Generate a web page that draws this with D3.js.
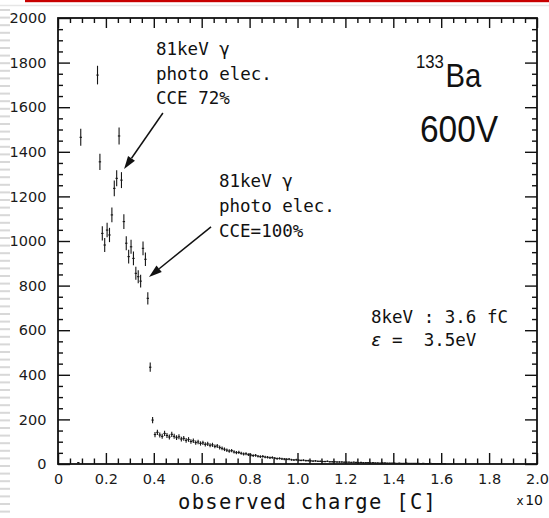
<!DOCTYPE html>
<html>
<head>
<meta charset="utf-8">
<script src="https://cdn.jsdelivr.net/npm/d3@7"></script>
<style>
  html, body { margin: 0; padding: 0; background: #fff; }
  svg { display: block; }
</style>
</head>
<body>
<svg id="chart" width="549" height="518"></svg>
<script>
// Axis ticks
const xTickValues = [0, 0.2, 0.4, 0.6, 0.8, 1.0, 1.2, 1.4, 1.6, 1.8, 2.0];
const xTickLabels = ["0", "0.2", "0.4", "0.6", "0.8", "1.0", "1.2", "1.4", "1.6", "1.8", "2.0"];
const yTickValues = [0, 200, 400, 600, 800, 1000, 1200, 1400, 1600, 1800, 2000];
const yTickLabels = ["0", "200", "400", "600", "800", "1000", "1200", "1400", "1600", "1800", "2000"];

// Photo-peak region: bin centre (charge, x10 C units) and counts
const peakCharge = [0.085, 0.095, 0.165, 0.175, 0.185, 0.195, 0.205, 0.215, 0.225, 0.235,
                    0.245, 0.255, 0.265, 0.275, 0.285, 0.295, 0.305, 0.315, 0.325, 0.335,
                    0.345, 0.355, 0.365, 0.375, 0.385, 0.395];
const peakCounts = [6, 1465, 1744, 1355, 1034, 982, 1049, 1027, 1117, 1236,
                    1281, 1471, 1273, 1087, 990, 930, 974, 922, 855, 840,
                    820, 967, 918, 743, 434, 197];

// Low-charge tail: consecutive bins starting at tailStart, width binWidth
const tailStart = 0.405;
const binWidth = 0.01;
const tailCounts = [132, 142, 130, 124, 137, 128, 121, 133, 124, 118,
                    122, 112, 115, 106, 110, 101, 104, 96, 99, 92,
                    95, 88, 90, 84, 86, 79, 81, 74, 70, 66,
                    62, 58, 60, 54, 51, 52, 48, 45, 46, 42,
                    40, 38, 39, 35, 33, 34, 31, 30, 28, 29,
                    26, 24, 25, 23, 22, 21, 22, 19, 18, 19,
                    17, 16, 17, 15, 15, 14, 13, 14, 12, 12,
                    11, 11, 12, 10, 10, 10, 9, 9, 9, 8,
                    8, 8, 7, 8, 7, 6, 7, 6, 6, 6,
                    5, 6, 5, 5, 4, 5, 5, 4, 4, 4,
                    4, 3, 4, 3, 3, 4, 3, 3, 3, 3,
                    3, 2, 3, 2, 2, 3, 2, 2, 2, 2,
                    2, 1];

// Annotation arrows: [tail, tip] in data units (charge, counts)
const arrowPeak72 = [[0.438, 1574], [0.276, 1323]];
const arrowPeak100 = [[0.639, 1063], [0.380, 839]];

const svg = d3.select("#chart");
const W = 549, H = 518;
const plot = { left: 58, right: 537, top: 18, bottom: 464 };

const x = d3.scaleLinear().domain([0, 2.0]).range([plot.left, plot.right]);
const y = d3.scaleLinear().domain([0, 2000]).range([plot.bottom, plot.top]);

// Page decoration: red rule on top and striped left margin
svg.append("rect").attr("x", 25).attr("y", 0).attr("width", W - 25).attr("height", 2.2).attr("fill", "#c80000");
svg.append("line").attr("x1", 0).attr("x2", W).attr("y1", 5.5).attr("y2", 5.5)
  .attr("stroke", "#e6e6e6").attr("stroke-width", 1.5);
svg.append("g").selectAll("rect")
  .data(d3.range(9, H, 7.6))
  .join("rect")
  .attr("x", 0).attr("y", d => d).attr("width", 10).attr("height", 2)
  .attr("fill", "#d8d8d8");

// Minor tick positions
const xMinor = d3.range(0, 41).map(i => i * 0.05).filter(v => Math.abs(v / 0.2 - Math.round(v / 0.2)) > 1e-6);
const yMinor = d3.range(0, 41).map(i => i * 50).filter(v => v % 200 !== 0);

const tickStyle = g => {
  g.select(".domain").remove();
  g.selectAll(".tick line").attr("stroke", "#111").attr("stroke-width", 1.4);
};

// Bottom axis (major with labels, minor without)
svg.append("g").attr("transform", `translate(0,${plot.bottom})`)
  .call(d3.axisBottom(x).tickValues(xTickValues).tickSizeInner(-11).tickSizeOuter(0).tickPadding(9.7)
    .tickFormat((d, i) => xTickLabels[i]))
  .call(tickStyle)
  .call(g => g.selectAll("text").attr("font-family", "DejaVu Sans").attr("font-size", 14.5).attr("fill", "#1a1a1a"));
svg.append("g").attr("transform", `translate(0,${plot.bottom})`)
  .call(d3.axisBottom(x).tickValues(xMinor).tickSizeInner(-5.5).tickSizeOuter(0).tickFormat(""))
  .call(tickStyle);

// Top axis (ticks only)
svg.append("g").attr("transform", `translate(0,${plot.top})`)
  .call(d3.axisTop(x).tickValues(xTickValues).tickSizeInner(-10).tickSizeOuter(0).tickFormat(""))
  .call(tickStyle);
svg.append("g").attr("transform", `translate(0,${plot.top})`)
  .call(d3.axisTop(x).tickValues(xMinor).tickSizeInner(-5).tickSizeOuter(0).tickFormat(""))
  .call(tickStyle);

// Left axis
svg.append("g").attr("transform", `translate(${plot.left},0)`)
  .call(d3.axisLeft(y).tickValues(yTickValues).tickSizeInner(-12).tickSizeOuter(0).tickPadding(11.5)
    .tickFormat((d, i) => yTickLabels[i]))
  .call(tickStyle)
  .call(g => g.selectAll("text").attr("font-family", "DejaVu Sans").attr("font-size", 14.5).attr("fill", "#1a1a1a"));
svg.append("g").attr("transform", `translate(${plot.left},0)`)
  .call(d3.axisLeft(y).tickValues(yMinor).tickSizeInner(-5).tickSizeOuter(0).tickFormat(""))
  .call(tickStyle);

// Right axis (ticks only)
svg.append("g").attr("transform", `translate(${plot.right},0)`)
  .call(d3.axisRight(y).tickValues(yTickValues).tickSizeInner(-12).tickSizeOuter(0).tickFormat(""))
  .call(tickStyle);
svg.append("g").attr("transform", `translate(${plot.right},0)`)
  .call(d3.axisRight(y).tickValues(yMinor).tickSizeInner(-5).tickSizeOuter(0).tickFormat(""))
  .call(tickStyle);

// Frame
svg.append("rect")
  .attr("x", plot.left).attr("y", plot.top)
  .attr("width", plot.right - plot.left).attr("height", plot.bottom - plot.top)
  .attr("fill", "none").attr("stroke", "#111").attr("stroke-width", 1.8);

// Histogram points with Poisson error bars
const points = peakCharge.map((c, i) => ({ c, n: peakCounts[i] }))
  .concat(tailCounts.map((n, i) => ({ c: tailStart + i * binWidth, n })));

const marks = svg.append("g").attr("stroke", "#151515").attr("stroke-width", 1.1).attr("fill", "none");
marks.selectAll("line.err")
  .data(points)
  .join("line")
  .attr("class", "err")
  .attr("x1", d => x(d.c)).attr("x2", d => x(d.c))
  .attr("y1", d => y(d.n + Math.sqrt(d.n))).attr("y2", d => y(Math.max(0, d.n - Math.sqrt(d.n))));
marks.selectAll("line.bin")
  .data(points)
  .join("line")
  .attr("class", "bin")
  .attr("x1", d => x(d.c - binWidth / 2)).attr("x2", d => x(d.c + binWidth / 2))
  .attr("y1", d => y(d.n)).attr("y2", d => y(d.n));

// Arrows
function arrow(seg) {
  const [x1, y1] = [x(seg[0][0]), y(seg[0][1])];
  const [x2, y2] = [x(seg[1][0]), y(seg[1][1])];
  const ang = Math.atan2(y2 - y1, x2 - x1);
  const len = 13, half = 4.2;
  const bx = x2 - len * Math.cos(ang), by = y2 - len * Math.sin(ang);
  svg.append("line").attr("x1", x1).attr("y1", y1).attr("x2", bx).attr("y2", by)
    .attr("stroke", "#111").attr("stroke-width", 1.5);
  const px = -Math.sin(ang) * half, py = Math.cos(ang) * half;
  svg.append("path")
    .attr("d", `M${x2},${y2}L${bx + px},${by + py}L${bx - px},${by - py}Z`)
    .attr("fill", "#111");
}
arrow(arrowPeak72);
arrow(arrowPeak100);

// Annotation text
const mono = "'DejaVu Sans Mono', monospace";
function block(lines, x0, y0, dy) {
  const t = svg.append("text").attr("font-family", mono).attr("font-size", 17.5).attr("fill", "#111");
  lines.forEach((s, i) => t.append("tspan").attr("x", x0).attr("y", y0 + i * dy).text(s));
}
block(["81keV γ", "photo elec.", "CCE 72%"], 156, 55, 24.5);
block(["81keV γ", "photo elec.", "CCE=100%"], 219, 187, 25);

// Source and bias
const sans = "'Liberation Sans', Arial, sans-serif";
const gBa = svg.append("g").attr("transform", "translate(416,68) scale(0.9,1)");
gBa.append("text").attr("font-family", sans).attr("font-size", 18.6).attr("fill", "#111").text("133");
svg.append("g").attr("transform", "translate(445.5,87) scale(0.9,1)")
  .append("text").attr("font-family", sans).attr("font-size", 32.5).attr("fill", "#111").text("Ba");
svg.append("g").attr("transform", "translate(420,141.7) scale(0.9,1)")
  .append("text").attr("font-family", sans).attr("font-size", 37.2).attr("fill", "#111").text("600V");

// Conversion note
svg.append("text").attr("font-family", mono).attr("font-size", 17.5).attr("fill", "#111")
  .attr("x", 371).attr("y", 323).attr("xml:space", "preserve").style("white-space", "pre")
  .text("8keV : 3.6 fC");
const eps = svg.append("text").attr("font-family", mono).attr("font-size", 17.5).attr("fill", "#111")
  .attr("x", 371).attr("y", 346).attr("xml:space", "preserve").style("white-space", "pre");
eps.append("tspan").attr("font-style", "italic").text("ε");
eps.append("tspan").text(" =  3.5eV");

// Axis title and multiplier
svg.append("text").attr("font-family", mono).attr("font-size", 20.5).attr("fill", "#111")
  .attr("x", 178).attr("y", 509).attr("letter-spacing", 1.3)
  .text("observed charge [C]");
const mult = svg.append("text").attr("font-family", "DejaVu Sans").attr("fill", "#111")
  .attr("x", 543).attr("y", 505).attr("text-anchor", "end");
mult.append("tspan").attr("font-size", 12).text("x");
mult.append("tspan").attr("font-size", 14).attr("dx", 1.5).text("10");
</script>
</body>
</html>
